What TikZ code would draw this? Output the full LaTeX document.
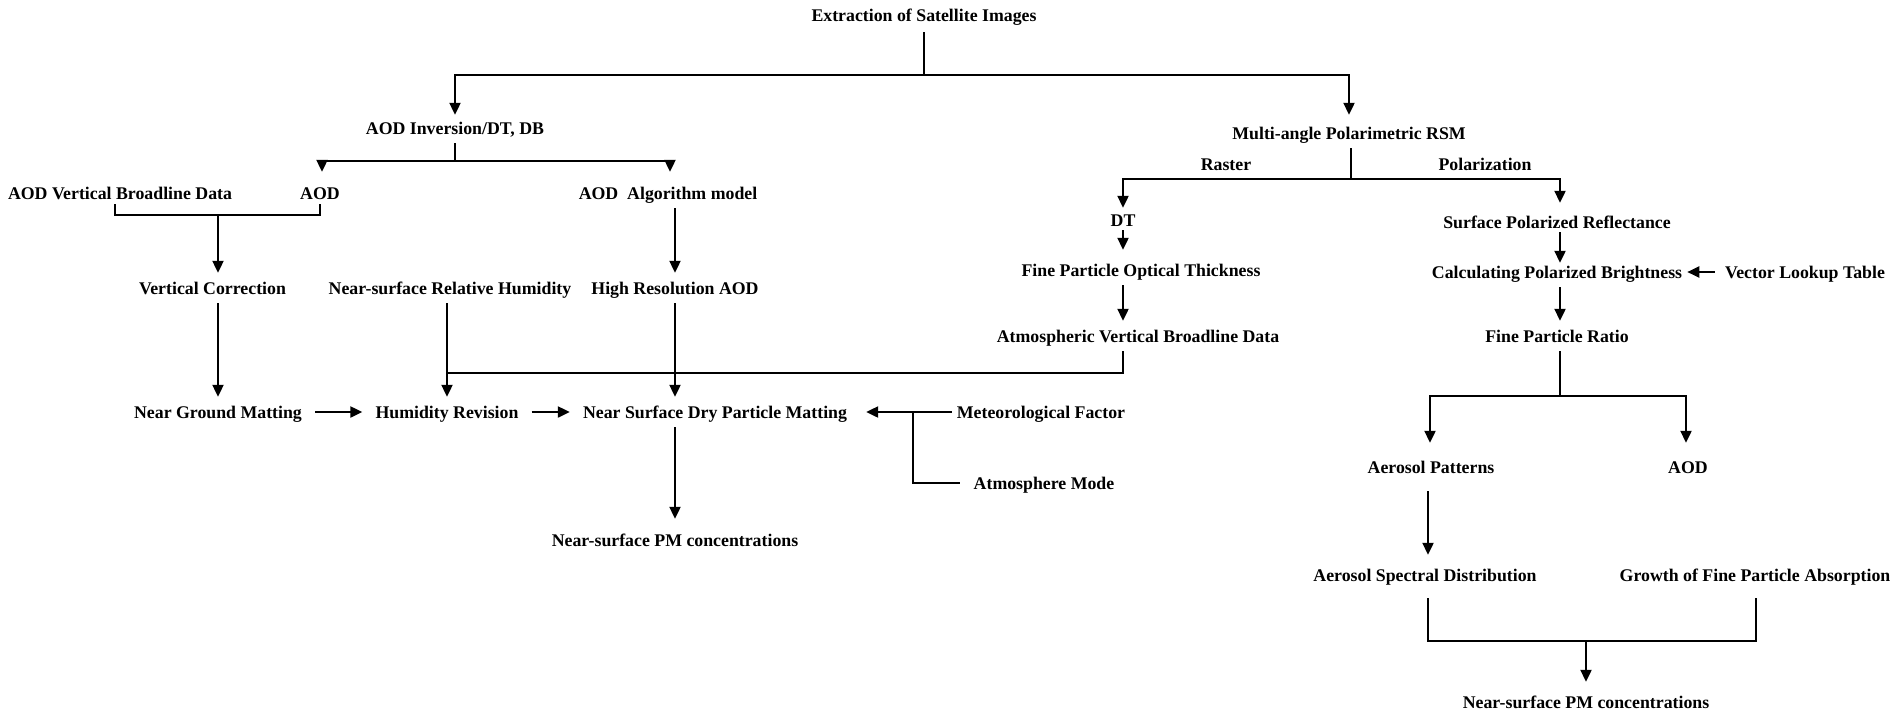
\documentclass[tikz,border=0pt]{standalone}
\usepackage{fontspec}
\setmainfont{Liberation Serif}
\usetikzlibrary{arrows.meta}
\tikzset{
  lbl/.style={font=\fontsize{17.8}{20}\selectfont\bfseries, text height=12pt, text depth=0pt, inner xsep=13pt, inner ysep=9pt},
  ln/.style={line width=2.1pt},
  arr/.style={ln, -{Triangle[length=12pt,width=11pt]}},
}
\begin{document}
\begin{tikzpicture}[x=1pt,y=-1pt]
\useasboundingbox (0,0) rectangle (1902,716);
% nodes
\node[lbl] (ext)  at (924,15)  {Extraction of Satellite Images};
\node[lbl] (inv)  at (455,128) {AOD Inversion/DT, DB};
\node[lbl] (mpr)  at (1349,133) {Multi-angle Polarimetric RSM};
\node[lbl] (avb)  at (120,193) {AOD Vertical Broadline Data};
\node[lbl] (aod1) at (320,193) {AOD};
\node[lbl] (alg)  at (668,193) {AOD\ \ Algorithm model};
\node[lbl] (ras)  at (1226,164) {Raster};
\node[lbl] (pol)  at (1485,164) {Polarization};
\node[lbl] (dt)   at (1123,220) {DT};
\node[lbl] (spr)  at (1557,222) {Surface Polarized Reflectance};
\node[lbl] (vc)   at (212.5,288) {Vertical Correction};
\node[lbl] (nsrh) at (450,288) {Near-surface Relative Humidity};
\node[lbl] (hra)  at (675,288) {High Resolution AOD};
\node[lbl] (fpot) at (1141,270) {Fine Particle Optical Thickness};
\node[lbl] (cpb)  at (1557,272) {Calculating Polarized Brightness};
\node[lbl] (vlt)  at (1805,272) {Vector Lookup Table};
\node[lbl] (avbd) at (1138,336) {Atmospheric Vertical Broadline Data};
\node[lbl] (fpr)  at (1557,336) {Fine Particle Ratio};
\node[lbl] (ngm)  at (218,412) {Near Ground Matting};
\node[lbl] (hr)   at (447,412) {Humidity Revision};
\node[lbl] (nsd)  at (715,412) {Near Surface Dry Particle Matting};
\node[lbl] (mf)   at (1041,412) {Meteorological Factor};
\node[lbl] (am)   at (1044,483) {Atmosphere Mode};
\node[lbl] (pm1)  at (675,540) {Near-surface PM concentrations};
\node[lbl] (ap)   at (1431,467) {Aerosol Patterns};
\node[lbl] (aod2) at (1688,467) {AOD};
\node[lbl] (asd)  at (1425,575) {Aerosol Spectral Distribution};
\node[lbl] (gfpa) at (1755,575) {Growth of Fine Particle Absorption};
\node[lbl] (pm2)  at (1586,702) {Near-surface PM concentrations};
\coordinate (mj) at (913,412);
% top split
\draw[ln] ([yshift=-2pt]ext.south) -- (ext.south |- 0,75);
\draw[arr] (ext.south |- 0,75) -| ([yshift=-2pt]inv.north);
\draw[arr] (ext.south |- 0,75) -| ([yshift=3pt]mpr.north);
% AOD inversion fork
\draw[ln] (inv.south) -- (inv.south |- 0,161);
\draw[arr] (inv.south |- 0,161) -| ([yshift=6pt]aod1.north -| 322,0);
\draw[arr] (inv.south |- 0,161) -| ([yshift=6pt]alg.north -| 670,0);
% bracket to vertical correction
\draw[ln] (115,204) -- (115,215) -- (aod1.south |- 0,215) -- ([yshift=4pt]aod1.south);
\draw[arr] (ngm.north |- 0,215) -- (vc.north -| ngm.north);
\draw[arr] (vc.south -| ngm.north) -- (ngm.north);
% algorithm model -> high resolution AOD
\draw[arr] (hra.north |- alg.south) -- (hra.north);
\draw[arr] (hra.south) -- (hra.south |- nsd.north);
% humidity
\draw[arr] (hr.north |- nsrh.south) -- (hr.north);
% horizontal chain
\draw[arr] (ngm.east) -- (hr.west);
\draw[arr] (hr.east) -- (nsd.west);
\draw[arr] ([xshift=8pt]mf.west) -- ([xshift=6pt]nsd.east);
\draw[ln] ([xshift=-1pt]am.west) -| (mj);
\draw[arr] (pm1.north |- nsd.south) -- ([yshift=6pt]pm1.north);
% multi-angle polarimetric split
\draw[ln] (mpr.south -| 1351,0) -- (1351,179);
\draw[arr] (1351,179) -| ([yshift=-3pt]dt.north);
\draw[arr] (1351,179) -| ([yshift=4pt]spr.north -| 1560,0);
% raster branch
\draw[arr] ([yshift=5pt]dt.south) -- ([yshift=5pt]dt.south |- fpot.north);
\draw[arr] (dt.south |- fpot.south) -- (dt.south |- avbd.north);
\draw[ln] (dt.south |- avbd.south) -- (dt.south |- 0,373) -- (hr.north |- 0,373);
% polarization branch
\draw[arr] ([yshift=5pt]spr.south -| 1560,0) -- ([yshift=-6pt]cpb.north -| 1560,0);
\draw[arr] ([xshift=3pt]vlt.west) -- ([xshift=-8pt]cpb.east);
\draw[arr] (cpb.south -| 1560,0) -- (fpr.north -| 1560,0);
\draw[ln] (fpr.south -| 1560,0) -- (1560,396);
\draw[arr] (1560,396) -| ([yshift=9pt]ap.north -| 1430,0);
\draw[arr] (1560,396) -| ([yshift=9pt]aod2.north -| 1686,0);
\draw[arr] ([yshift=-9pt]ap.south -| 1428,0) -- ([yshift=5pt]asd.north -| 1428,0);
% final bracket
\draw[ln] ([yshift=-8pt]asd.south -| 1428,0) -- (1428,641) -- (1756,641) -- ([yshift=-8pt]gfpa.south -| 1756,0);
\draw[arr] (pm2.north |- 0,641) -- ([yshift=5pt]pm2.north);
\end{tikzpicture}
\end{document}
